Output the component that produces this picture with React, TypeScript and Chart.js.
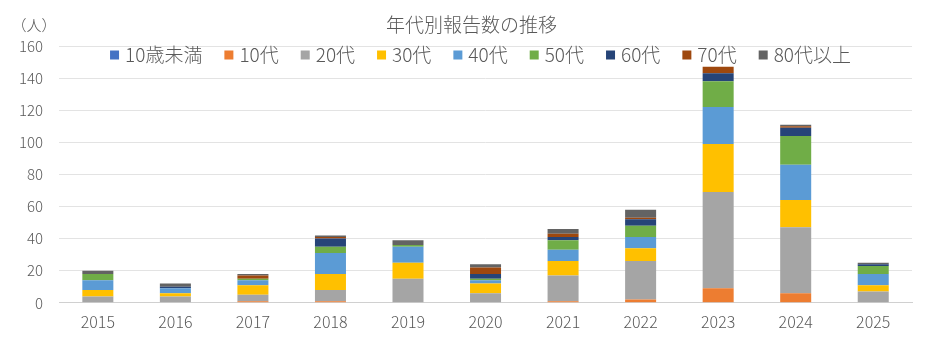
import React, { useEffect, useRef } from "react";
import { Chart, registerables } from "chart.js";

Chart.register(...registerables);

const years = ["2015", "2016", "2017", "2018", "2019", "2020", "2021", "2022", "2023", "2024", "2025"];
const under10 = [0, 0, 0, 0, 0, 0, 0, 0, 0, 0, 0];
const teens = [0, 0, 1, 1, 0, 0, 1, 2, 9, 6, 0];
const twenties = [4, 4, 4, 7, 15, 6, 16, 24, 60, 41, 7];
const thirties = [4, 2, 6, 10, 10, 6, 9, 8, 30, 17, 4];
const forties = [6, 3, 3, 13, 10, 2, 7, 7, 23, 22, 7];
const fifties = [4, 0, 1, 4, 1, 1, 6, 7, 16, 18, 5];
const sixties = [0, 1, 0, 5, 0, 3, 2, 4, 5, 5, 1];
const seventies = [0, 0, 2, 1, 0, 4, 2, 1, 4, 1, 0];
const eighties = [2, 2, 1, 1, 3, 2, 3, 5, 0, 1, 1];

const seriesLabels = ["10歳未満", "10代", "20代", "30代", "40代", "50代", "60代", "70代", "80代以上"];
const seriesColors = ["#4472C4", "#ED7D31", "#A5A5A5", "#FFC000", "#5B9BD5", "#70AD47", "#264478", "#9E480E", "#636363"];
const seriesData = [under10, teens, twenties, thirties, forties, fifties, sixties, seventies, eighties];

const yTicks = [0, 20, 40, 60, 80, 100, 120, 140, 160];
const titleText = "年代別報告数の推移";
const unitText = "（人）";

const FONT = "'Noto Sans CJK JP', 'Noto Sans', sans-serif";
const TEXT = "#595959";

const overlayPlugin = {
  id: "overlay",
  afterDraw(chart: any) {
    const ctx = chart.ctx as CanvasRenderingContext2D;
    const area = chart.chartArea;
    ctx.save();
    ctx.fillStyle = TEXT;
    ctx.textBaseline = "middle";
    // title
    ctx.font = `300 19px ${FONT}`;
    ctx.textAlign = "center";
    ctx.fillText(titleText, chart.width / 2 + 8, 25);
    // unit
    ctx.font = `300 15px ${FONT}`;
    ctx.fillText(unitText, 34, 25);
    // legend
    ctx.font = `300 19px ${FONT}`;
    ctx.textAlign = "left";
    const box = 9;
    const gapBoxText = 6;
    const gapItems = 22;
    const widths = seriesLabels.map((l) => ctx.measureText(l).width);
    let total = 0;
    widths.forEach((w, i) => {
      total += box + gapBoxText + w + (i < widths.length - 1 ? gapItems : 0);
    });
    const center = (area.left + area.right) / 2 - 5;
    let x = center - total / 2;
    const y = 55;
    seriesLabels.forEach((l, i) => {
      ctx.fillStyle = seriesColors[i];
      ctx.fillRect(x, y - box / 2, box, box);
      ctx.fillStyle = TEXT;
      ctx.fillText(l, x + box + gapBoxText, y);
      x += box + gapBoxText + widths[i] + gapItems;
    });
    ctx.restore();
  },
};

export default function App() {
  const ref = useRef<HTMLCanvasElement | null>(null);
  useEffect(() => {
    document.body.style.margin = "0";
    if (!ref.current) return;
    const chart = new Chart(ref.current, {
      type: "bar",
      data: {
        labels: years,
        datasets: seriesData.map((d, i) => ({
          label: seriesLabels[i],
          data: d,
          backgroundColor: seriesColors[i],
          borderWidth: 0,
          barPercentage: 0.4,
          categoryPercentage: 1,
        })),
      },
      options: {
        animation: false,
        responsive: false,
        devicePixelRatio: 1,
        layout: { padding: { top: 46, left: 3, right: 15, bottom: 7 } },
        plugins: {
          legend: { display: false },
          title: { display: false },
          tooltip: { enabled: false },
        },
        scales: {
          x: {
            stacked: true,
            grid: { display: false, drawTicks: false },
            border: { display: true, color: "#d0d0d0", width: 1 },
            ticks: { color: TEXT, font: { family: FONT, size: 16, weight: "300" }, padding: 10 },
          },
          y: {
            stacked: true,
            min: yTicks[0],
            max: yTicks[yTicks.length - 1],
            afterBuildTicks: (axis: any) => {
              axis.ticks = yTicks.map((v) => ({ value: v }));
            },
            grid: { color: "#e3e3e3", drawTicks: false, lineWidth: 1 },
            border: { display: false },
            ticks: { color: TEXT, font: { family: FONT, size: 15, weight: "300" }, padding: 16 },
          },
        },
      },
      plugins: [overlayPlugin],
    });
    return () => chart.destroy();
  }, []);
  return (
    <div style={{ width: 927, height: 349, background: "#fff" }}>
      <canvas ref={ref} width={927} height={349} />
    </div>
  );
}
